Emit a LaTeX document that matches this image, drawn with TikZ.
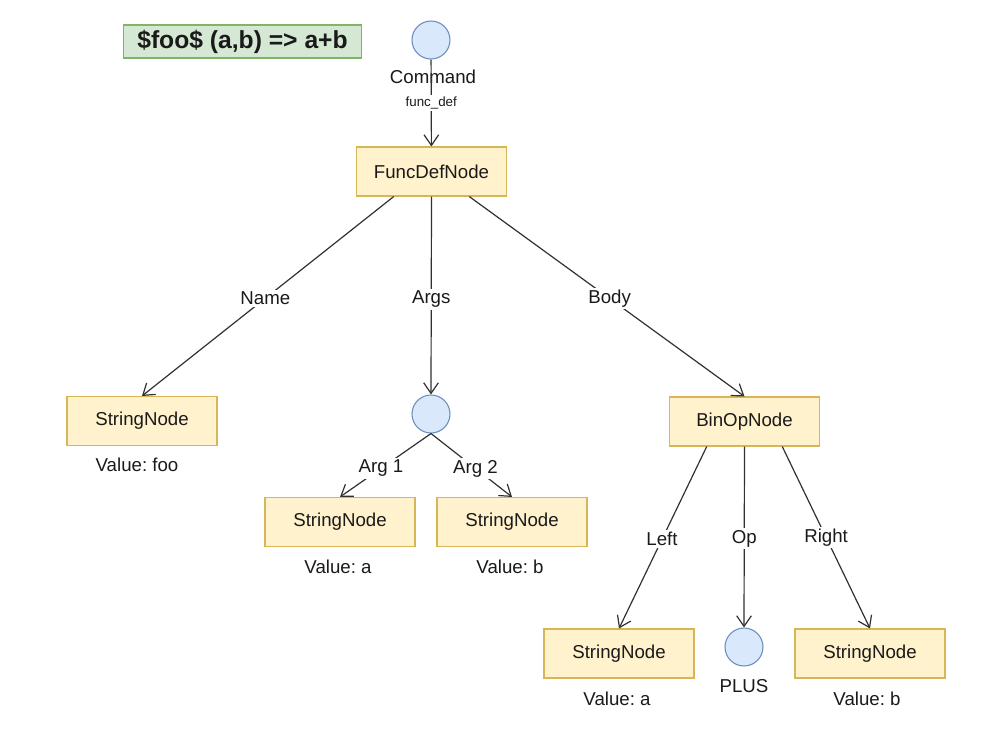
\documentclass[tikz,border=0pt]{standalone}
\usepackage{fontspec}
\setmainfont{Liberation Sans}
\frenchspacing
\usetikzlibrary{arrows.meta,calc}
\definecolor{boxfill}{HTML}{FFF2CC}
\definecolor{boxline}{HTML}{D6B656}
\definecolor{dotfill}{HTML}{DAE8FC}
\definecolor{dotline}{HTML}{6C8EBF}
\definecolor{notefill}{HTML}{D5E8D4}
\definecolor{noteline}{HTML}{82B366}
\definecolor{ink}{HTML}{1A1A1A}
\tikzset{
  astnode/.style={draw=boxline, fill=boxfill, line width=0.8pt, minimum width=112.5pt,
    minimum height=36.75pt, inner sep=0pt, text=ink, font=\fontsize{14}{16}\selectfont},
  dot/.style={circle, draw=dotline, fill=dotfill, line width=0.8pt, minimum size=28.5pt, inner sep=0pt},
  plain/.style={text=ink, inner sep=1pt, font=\fontsize{14}{16}\selectfont},
  edgelabel/.style={fill=white, text=ink, inner sep=1.5pt, font=\fontsize{14}{16}\selectfont},
  smalllabel/.style={fill=white, text=ink, inner sep=1.5pt, font=\fontsize{10}{12}\selectfont},
  link/.style={draw=ink!90, line width=0.9pt, -{Straight Barb[length=8pt,width=11pt,line width=0.9pt]}},
  title/.style={draw=noteline, fill=notefill, line width=0.8pt, minimum width=179pt,
    minimum height=24.75pt, inner sep=0pt, text=ink, font=\bfseries\fontsize{18.5}{21}\selectfont}
}
\begin{document}
\begin{tikzpicture}[x=0.75pt,y=-0.75pt]
\useasboundingbox[fill=white] (0,0) rectangle (982,733);

% headline
\node[title] (head) at (242.5,41.5) {\$foo\$ (a,b) => a+b};

% root command
\node[dot] (cmd) at (431,40) {};
\node[plain] (cmdlabel) at (433,77) {Command};

% function definition
\node[astnode] (fd) at (431.5,171.5) {FuncDefNode};
\draw[link] (cmd) -- node[smalllabel, pos=0.5] (fdlabel) {func\_def} (fd);

% children of the definition
\node[astnode] (s1) at (142,421) {StringNode};
\node[plain] (v1) at (137,465) {Value: foo};
\node[dot] (args) at (431,414) {};
\node[astnode] (bin) at (744.5,421.5) {BinOpNode};

\draw[link] ($(fd.south west)!0.25!(fd.south east)$) -- node[edgelabel, pos=0.51] (lname) {Name} (s1.north);
\draw[link] (fd.south) -- node[edgelabel, pos=0.52] (largs) {Args} (args.north);
\draw[link] ($(fd.south west)!0.75!(fd.south east)$) -- node[edgelabel, pos=0.51] (lbody) {Body} (bin.north);

% arguments
\node[astnode] (s2) at (340,522) {StringNode};
\node[plain] (v2) at (338,567) {Value: a};
\node[astnode] (s3) at (512,522) {StringNode};
\node[plain] (v3) at (510,567) {Value: b};
\draw[link] (args.south) -- node[edgelabel, pos=0.55] (larg1) {Arg 1} (s2.north);
\draw[link] (args.south) -- node[edgelabel, pos=0.55] (larg2) {Arg 2} (s3.north);

% body: binary operation
\node[astnode] (s4) at (619,653.5) {StringNode};
\node[plain] (v4) at (617,699) {Value: a};
\node[dot] (op) at (744,647) {};
\node[plain] (plus) at (744,686) {PLUS};
\node[astnode] (s5) at (870,653.5) {StringNode};
\node[plain] (v5) at (867,699) {Value: b};

\draw[link] ($(bin.south west)!0.25!(bin.south east)$) -- node[edgelabel, pos=0.51] (lleft) {Left} (s4.north);
\draw[link] (bin.south) -- node[edgelabel, pos=0.51] (lop) {Op} (op.north);
\draw[link] ($(bin.south west)!0.75!(bin.south east)$) -- node[edgelabel, pos=0.5] (lright) {Right} (s5.north);
\end{tikzpicture}
\end{document}
